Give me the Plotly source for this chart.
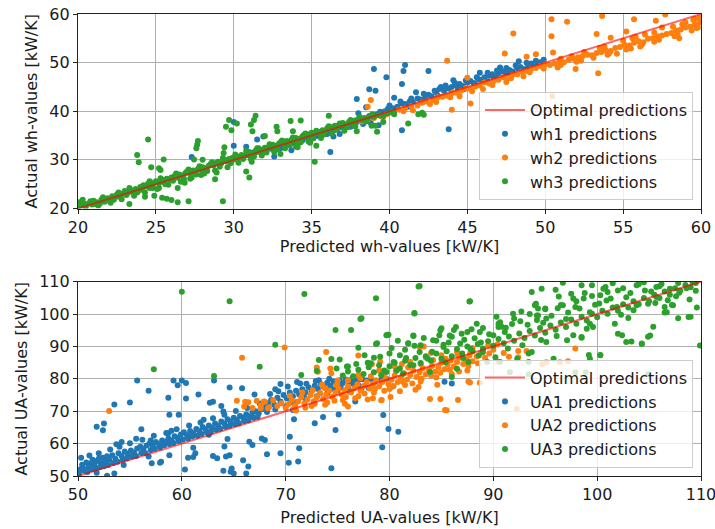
import plotly.graph_objects as go

FONT = "DejaVu Sans"

# ---- top panel: wh-values (predicted, actual) ----
wh1_points = [
    (30.2, 30.6), (30.5, 30.7), (30.8, 31.0), (31.0, 30.9), (31.3, 31.5), (31.6, 31.8), (31.9, 31.6),
    (32.1, 32.4), (32.4, 32.3), (32.7, 32.5), (32.9, 32.6), (33.2, 33.4), (33.4, 33.0), (33.8, 33.5),
    (34.1, 34.3), (34.4, 34.0), (34.7, 34.5), (35.0, 35.2), (35.3, 34.9), (35.6, 35.5), (35.9, 35.4),
    (36.1, 36.3), (36.4, 36.0), (36.7, 36.5), (37.0, 36.7), (37.3, 37.1), (37.6, 37.3), (37.9, 37.8),
    (38.1, 38.3), (38.4, 38.2), (38.7, 39.0), (38.9, 39.3), (39.2, 39.4), (39.4, 39.9), (39.7, 40.0),
    (39.9, 40.5), (40.2, 40.6), (40.5, 40.9), (40.8, 41.6), (41.0, 41.5), (41.3, 42.0), (41.5, 41.9),
    (41.8, 42.6), (42.0, 42.4), (42.3, 42.9), (42.5, 43.4), (42.7, 43.1), (43.0, 43.9), (43.2, 44.6),
    (43.3, 45.0), (43.5, 44.2), (43.8, 44.7), (44.0, 45.0), (44.3, 45.3), (44.5, 45.6), (44.7, 45.2),
    (45.0, 45.9), (45.2, 46.2), (45.4, 45.8), (45.7, 46.6), (45.9, 46.5), (46.1, 47.0), (46.4, 47.3),
    (46.6, 47.6), (46.8, 47.2), (47.0, 47.8), (47.2, 48.3), (47.4, 48.0), (47.7, 48.5), (47.9, 48.2),
    (48.2, 48.9), (48.4, 49.1), (48.6, 48.7), (48.9, 49.4), (49.1, 49.8), (49.3, 49.2), (49.5, 49.9),
    (49.7, 50.1), (33.0, 32.4), (34.9, 34.2), (36.0, 35.3), (36.8, 35.3), (37.5, 36.8), (38.3, 37.4),
    (38.8, 37.6), (39.5, 38.9), (40.3, 40.0), (41.2, 40.9), (44.8, 44.6), (46.3, 46.1), (47.6, 47.3),
    (48.9, 48.7), (42.1, 41.8), (27.3, 30.6), (30.0, 32.9), (30.0, 37.8), (30.8, 32.7), (31.5, 34.2),
    (31.9, 34.8), (32.6, 30.7), (33.7, 32.0), (36.2, 31.6), (36.4, 34.8), (37.9, 42.5), (38.0, 39.6),
    (38.7, 44.5), (39.0, 48.7), (39.1, 44.2), (39.3, 37.1), (39.8, 47.0), (40.8, 45.6), (40.8, 36.1),
    (40.9, 48.3), (41.0, 49.5), (42.5, 48.3), (43.8, 36.3), (38.5, 40.8), (40.3, 42.8), (41.7, 43.9),
    (44.1, 46.4), (45.8, 47.9), (47.1, 49.0), (48.3, 50.3), (40.0, 41.2), (40.7, 42.0), (41.4, 42.6),
    (42.2, 43.6), (42.9, 44.2), (43.6, 45.3), (44.2, 45.8), (44.9, 46.3), (45.6, 47.0), (46.3, 47.9),
    (46.9, 48.4), (47.5, 48.9), (48.1, 49.4), (48.8, 50.0), (49.4, 50.4), (49.9, 50.6), (43.1, 43.2),
    (44.4, 44.6), (45.5, 45.5), (46.7, 46.8), (47.8, 48.0), (49.0, 49.1),
]

wh2_points = [
    (38.2, 37.9), (38.6, 38.3), (39.0, 38.6), (39.4, 39.1), (39.8, 39.4), (40.2, 39.8), (40.6, 40.3),
    (41.0, 40.6), (41.4, 41.1), (41.8, 41.2), (42.1, 41.8), (42.4, 42.0), (42.8, 42.3), (43.1, 42.9),
    (43.4, 43.0), (43.7, 43.2), (44.0, 43.7), (44.3, 43.8), (44.6, 44.2), (44.9, 44.7), (45.2, 44.6),
    (45.5, 45.1), (45.8, 45.3), (46.1, 45.9), (46.4, 45.7), (46.7, 46.2), (47.0, 46.5), (47.3, 47.0),
    (47.6, 46.9), (47.9, 47.5), (48.2, 47.6), (48.5, 48.1), (48.8, 48.3), (49.1, 48.7), (49.4, 48.9),
    (49.7, 49.3), (50.0, 49.6), (50.3, 49.5), (50.6, 49.8), (50.9, 50.2), (51.2, 50.1), (51.5, 50.6),
    (51.8, 50.8), (52.1, 51.1), (52.4, 51.3), (52.7, 51.6), (53.0, 51.5), (53.3, 52.0), (53.6, 52.2),
    (53.9, 52.5), (54.2, 52.4), (54.5, 53.0), (54.8, 53.2), (55.1, 53.6), (55.4, 53.5), (55.7, 54.1),
    (56.0, 54.4), (56.3, 54.2), (56.6, 54.9), (56.9, 55.0), (57.2, 55.4), (57.5, 55.6), (57.8, 55.9),
    (58.1, 56.1), (58.4, 56.6), (58.7, 56.8), (59.0, 57.2), (59.3, 57.4), (59.6, 57.9), (59.9, 58.3),
    (41.5, 40.2), (43.0, 41.9), (44.5, 43.1), (46.0, 44.6), (47.5, 46.0), (48.6, 47.2), (50.8, 49.0),
    (52.3, 50.4), (54.0, 51.6), (55.5, 52.9), (57.0, 54.3), (58.5, 55.8), (59.8, 57.2), (52.5, 52.2),
    (55.0, 54.5), (57.5, 57.2), (59.0, 58.3), (59.9, 59.2), (55.8, 55.3), (51.0, 50.8), (53.8, 53.3),
    (56.4, 55.8), (58.8, 57.9), (38.6, 40.9), (38.8, 42.3), (43.7, 50.4), (44.0, 40.3), (45.2, 41.6),
    (45.0, 46.9), (47.4, 51.9), (47.95, 56.0), (48.8, 51.2), (49.4, 51.7), (49.4, 40.9), (50.4, 58.9),
    (51.4, 58.4), (50.4, 55.4), (50.5, 52.1), (50.45, 43.1), (51.95, 48.7), (53.4, 47.8), (53.3, 55.9),
    (53.65, 59.6), (54.2, 55.1), (55.2, 56.4), (55.7, 58.9), (57.1, 58.6), (57.7, 59.9), (58.6, 55.0),
    (59.6, 59.0), (59.7, 57.1), (39.6, 38.8), (40.9, 40.0), (42.6, 41.5), (43.9, 42.9), (45.3, 44.1),
    (46.6, 45.4), (47.8, 46.8), (49.0, 48.0), (49.9, 48.8), (51.0, 49.5), (52.0, 50.2), (53.1, 51.0),
    (54.1, 51.9), (55.2, 52.7), (56.2, 53.7), (57.3, 54.7), (58.3, 55.4), (59.4, 56.6), (51.7, 51.3),
    (53.5, 53.0), (55.6, 55.0), (57.0, 56.2), (58.2, 57.4), (59.5, 58.8), (56.1, 53.3), (54.6, 51.8),
]

wh3_points = [
    (20.0, 20.4), (20.1, 21.3), (20.2, 20.6), (20.4, 21.0), (20.5, 20.3), (20.7, 21.1), (20.9, 20.8),
    (21.0, 21.6), (21.2, 21.3), (21.4, 21.0), (21.5, 21.8), (21.7, 21.4), (21.9, 22.1), (22.0, 21.6),
    (22.2, 22.5), (22.4, 22.3), (22.5, 22.9), (22.7, 22.4), (22.9, 23.1), (23.0, 23.6), (23.2, 23.2),
    (23.4, 23.8), (23.5, 23.4), (23.7, 24.0), (23.9, 23.7), (24.0, 24.4), (24.2, 24.8), (24.4, 24.5),
    (24.5, 25.1), (24.7, 24.8), (24.9, 25.3), (25.0, 25.6), (25.2, 25.2), (25.4, 25.9), (25.5, 25.5),
    (25.7, 26.1), (25.9, 26.0), (26.0, 26.4), (26.2, 26.7), (26.4, 26.3), (26.5, 27.0), (26.7, 26.8),
    (26.9, 27.3), (27.0, 27.6), (27.2, 27.2), (27.4, 27.8), (27.5, 27.5), (27.7, 28.1), (27.9, 28.0),
    (28.0, 28.5), (28.2, 28.3), (28.4, 28.8), (28.5, 29.1), (28.7, 28.9), (28.9, 29.4), (29.0, 29.6),
    (29.2, 29.3), (29.4, 30.0), (29.5, 29.7), (29.7, 30.2), (29.9, 30.4), (30.0, 30.1), (30.2, 30.7),
    (30.4, 30.5), (30.5, 31.0), (30.7, 30.8), (30.9, 31.3), (31.0, 31.6), (31.2, 31.2), (31.4, 31.9),
    (31.5, 31.6), (31.7, 32.1), (31.9, 32.0), (32.0, 32.5), (32.2, 32.3), (32.4, 32.8), (32.5, 33.1),
    (32.7, 32.9), (32.9, 33.3), (33.0, 33.6), (33.2, 33.4), (33.4, 33.9), (33.5, 33.6), (33.7, 34.1),
    (33.9, 34.0), (34.0, 34.5), (34.2, 34.3), (34.4, 34.8), (34.5, 35.1), (34.7, 34.9), (34.9, 35.3),
    (35.0, 35.6), (35.2, 35.4), (35.4, 35.8), (35.5, 35.5), (35.7, 36.1), (35.9, 36.0), (36.0, 36.5),
    (36.2, 36.4), (36.4, 36.8), (36.5, 37.0), (36.7, 36.9), (36.9, 37.3), (37.0, 37.6), (37.2, 37.3),
    (37.4, 37.8), (37.6, 37.7), (37.8, 38.1), (38.0, 38.4), (38.2, 38.2), (38.4, 38.6), (38.6, 38.5),
    (38.8, 38.9), (39.0, 38.8), (39.3, 39.2), (39.6, 39.0), (39.9, 39.6), (40.2, 39.7), (40.3, 39.4),
    (41.85, 39.4), (42.1, 39.7), (42.2, 39.3), (21.3, 20.6), (22.1, 21.2), (22.8, 21.9), (23.6, 22.6),
    (24.3, 23.3), (25.1, 24.0), (25.8, 24.9), (26.6, 25.5), (27.3, 26.4), (28.1, 27.2), (28.8, 27.8),
    (29.6, 28.5), (30.3, 29.4), (31.1, 30.2), (31.8, 30.9), (32.6, 31.6), (33.3, 32.4), (34.1, 33.1),
    (34.8, 33.8), (35.6, 34.5), (36.3, 35.4), (37.1, 36.0), (37.8, 36.9), (24.5, 34.2), (23.8, 31.0),
    (23.9, 29.5), (24.7, 28.5), (25.5, 30.1), (25.2, 28.3), (25.3, 27.9), (24.3, 22.4), (23.3, 20.9),
    (24.9, 22.6), (25.4, 22.2), (25.7, 22.0), (26.0, 21.75), (26.4, 21.3), (27.1, 21.5), (29.3, 21.5),
    (27.7, 33.9), (27.65, 33.1), (27.6, 32.4), (27.45, 30.1), (28.0, 30.0), (29.4, 32.6), (29.35, 31.4),
    (29.5, 36.8), (29.7, 38.2), (29.85, 36.1), (30.2, 37.5), (28.9, 27.4), (28.8, 26.0), (27.9, 26.9),
    (27.2, 26.1), (26.85, 25.3), (26.4, 24.2), (25.2, 24.2), (24.6, 24.2), (30.8, 27.6), (31.0, 26.4),
    (31.15, 29.6), (31.1, 37.3), (31.4, 39.1), (31.3, 38.2), (31.2, 35.9), (32.0, 34.9), (32.75, 36.8),
    (32.8, 35.9), (33.65, 38.0), (34.3, 38.1), (33.8, 35.9), (33.0, 31.2), (34.0, 32.7), (34.1, 32.6),
    (34.6, 34.8), (34.9, 33.5), (35.2, 29.6), (35.3, 32.9), (36.1, 39.1), (31.5, 32.4), (38.85, 37.0),
    (39.2, 35.8), (37.9, 35.9), (41.2, 37.5), (39.1, 37.0), (39.6, 37.8), (20.3, 21.8), (20.8, 21.5),
    (21.1, 20.9), (21.6, 22.3), (22.3, 21.8), (22.6, 23.3), (23.1, 22.8), (23.3, 24.2), (23.8, 23.3),
    (24.1, 23.9), (24.6, 25.6), (24.8, 24.2), (25.3, 26.2), (25.6, 25.0), (26.1, 25.7), (26.3, 27.2),
    (26.8, 26.1), (27.1, 28.0), (27.6, 27.0), (27.8, 28.7), (28.3, 27.7), (28.6, 29.5), (29.1, 28.6),
    (29.3, 30.4), (29.8, 29.3), (30.1, 31.1), (30.6, 30.2), (30.8, 31.8), (31.3, 30.7), (31.6, 32.4),
    (32.1, 31.5), (32.3, 33.2), (32.8, 32.2), (33.1, 34.0), (33.6, 33.0), (33.8, 34.6), (34.3, 33.6),
    (34.6, 35.4), (35.1, 34.4), (35.3, 36.0), (35.8, 35.2), (36.1, 36.9), (36.6, 36.2), (36.8, 37.5),
    (37.3, 36.7), (37.5, 38.2), (37.7, 37.2), (38.1, 38.8), (38.5, 37.9), (38.9, 39.4),
]

# ---- bottom panel: UA-values (predicted, actual) ----
ua1_points = [
    (50.2, 52.0), (50.4, 53.5), (50.6, 51.6), (50.8, 54.2), (51.0, 52.8), (51.2, 53.8), (51.4, 55.0),
    (51.6, 53.2), (51.8, 54.6), (52.0, 55.3), (52.2, 53.9), (52.4, 55.6), (52.6, 54.5), (52.8, 56.1),
    (53.0, 55.0), (53.3, 56.4), (53.6, 55.3), (53.9, 57.0), (54.2, 56.2), (54.5, 57.6), (54.8, 56.8),
    (55.1, 57.9), (55.4, 57.2), (55.7, 58.5), (56.0, 59.0), (56.3, 58.3), (56.6, 59.4), (56.9, 60.0),
    (57.2, 59.3), (57.5, 60.5), (57.8, 59.8), (58.1, 61.0), (58.4, 60.5), (58.7, 61.6), (59.0, 61.0),
    (59.3, 62.3), (59.6, 61.7), (59.9, 62.8), (60.2, 63.5), (60.5, 62.6), (60.8, 63.9), (61.1, 63.2),
    (61.4, 64.5), (61.7, 63.8), (62.0, 65.1), (62.3, 64.4), (62.6, 65.6), (62.9, 65.0), (63.2, 66.2),
    (63.5, 65.5), (63.8, 66.8), (64.1, 66.2), (64.4, 67.5), (64.7, 66.8), (65.0, 68.0), (65.3, 67.3),
    (65.6, 68.5), (65.9, 68.0), (66.2, 69.0), (66.5, 68.4), (66.8, 69.6), (67.1, 70.0), (67.4, 69.3),
    (67.7, 70.6), (68.0, 71.2), (68.3, 72.5), (68.6, 73.5), (68.9, 72.0), (69.2, 74.2), (69.5, 73.0),
    (69.8, 75.0), (70.1, 74.0), (70.4, 75.8), (70.7, 74.6), (71.0, 76.3), (71.3, 75.2), (71.6, 76.8),
    (71.9, 75.8), (72.2, 77.4), (72.5, 76.3), (72.8, 77.9), (73.1, 76.9), (73.4, 78.3), (73.7, 77.4),
    (74.0, 78.8), (74.3, 77.8), (74.6, 79.2), (74.9, 78.3), (75.2, 79.6), (75.5, 78.7), (75.8, 79.8),
    (76.1, 79.1), (76.4, 80.0), (76.7, 79.4), (77.0, 79.7), (77.4, 79.9), (77.8, 79.5), (78.2, 80.0),
    (68.2, 69.8), (69.0, 70.5), (70.0, 71.5), (71.0, 72.8), (72.0, 73.6), (73.0, 74.6), (74.0, 75.5),
    (75.0, 76.4), (76.0, 77.2), (77.0, 78.0), (76.7, 73.0), (69.5, 78.4), (71.4, 78.6), (73.2, 79.6),
    (67.0, 75.2), (65.8, 77.1), (69.3, 76.2), (51.8, 65.2), (52.5, 66.2), (52.4, 64.1), (53.5, 72.1),
    (55.0, 72.7), (54.2, 60.5), (56.1, 64.4), (55.6, 61.5), (56.8, 76.3), (55.7, 79.5), (58.7, 74.2),
    (58.8, 68.9), (59.2, 79.5), (59.6, 78.0), (59.7, 68.9), (60.0, 79.5), (60.4, 78.7), (60.4, 73.9),
    (61.6, 75.2), (62.7, 72.6), (63.0, 72.9), (63.8, 71.6), (63.1, 79.5), (64.6, 77.3), (62.1, 67.4),
    (64.0, 69.9), (58.7, 63.2), (51.4, 54.4), (60.3, 52.0), (58.0, 54.4), (58.8, 56.4), (61.1, 55.9),
    (63.0, 56.2), (64.6, 56.4), (64.8, 52.3), (64.0, 51.6), (64.1, 59.1), (64.4, 61.4), (60.6, 55.6),
    (57.1, 53.9), (53.5, 50.8), (52.8, 50.1), (51.8, 51.0), (54.4, 53.4), (56.8, 56.0), (57.9, 54.1),
    (61.1, 58.7), (61.3, 57.0), (62.6, 62.7), (63.4, 55.5), (64.25, 56.0), (64.7, 51.3), (65.0, 50.8),
    (66.2, 50.8), (65.9, 54.9), (66.4, 52.9), (66.5, 60.6), (66.8, 59.6), (67.7, 61.6), (68.0, 61.1),
    (68.2, 56.7), (69.5, 57.0), (70.3, 54.1), (71.2, 54.5), (71.3, 58.6), (70.4, 62.1), (70.7, 70.4),
    (70.8, 67.5), (72.8, 66.3), (73.6, 68.2), (74.4, 52.4), (74.8, 64.2), (75.1, 69.0), (79.3, 58.9),
    (79.9, 64.5), (80.85, 63.7), (79.4, 68.8), (80.3, 77.6), (85.3, 79.1), (86.0, 78.6),
    (50.1, 50.8), (50.5, 52.4), (50.9, 51.2), (51.3, 52.1), (51.7, 51.9), (52.1, 52.7), (52.5, 53.0),
    (52.9, 53.4), (53.4, 54.0), (53.8, 54.4), (54.3, 55.0), (54.7, 55.5), (55.2, 56.0), (55.6, 56.2),
    (56.1, 57.1), (56.5, 57.0), (57.0, 58.0), (57.4, 58.4), (57.9, 58.8), (58.3, 59.5), (58.8, 59.9),
    (59.2, 60.2), (59.7, 60.8), (60.1, 61.3), (60.6, 61.6), (61.0, 62.2), (61.5, 62.4), (61.9, 63.0),
    (62.4, 63.5), (62.8, 63.7), (63.3, 64.3), (63.7, 64.6), (64.2, 65.2), (64.6, 65.5), (65.1, 66.0),
    (65.5, 66.3), (66.0, 67.0), (66.4, 67.2), (66.9, 68.0), (67.3, 68.3), (50.3, 55.6), (51.1, 56.3),
    (52.0, 57.0), (53.1, 58.2), (54.0, 59.0), (55.0, 60.1), (56.2, 61.2), (57.3, 62.4), (58.5, 63.3),
    (59.5, 64.4), (60.7, 65.6), (61.8, 66.5), (63.0, 67.8), (64.1, 68.9), (65.2, 70.1), (66.3, 71.0),
    (67.5, 72.4), (53.7, 59.8), (57.0, 61.0), (59.0, 64.0), (68.5, 75.3), (69.0, 76.8), (70.2, 77.6),
    (71.1, 79.0), (72.0, 78.5), (72.9, 79.3), (74.2, 80.0), (75.3, 77.3), (76.2, 76.0), (77.3, 77.0),
    (78.5, 78.8), (79.2, 79.7), (79.7, 80.0), (70.5, 72.8), (71.8, 74.2), (73.3, 75.5), (74.7, 76.8),
    (76.5, 78.5), (78.0, 77.2),
]

ua2_points = [
    (66.0, 71.5), (66.4, 72.8), (66.8, 71.0), (67.2, 73.2), (67.6, 71.8), (68.0, 72.9), (68.4, 71.2),
    (68.8, 73.4), (69.2, 71.6), (69.6, 72.5), (70.0, 71.0), (70.3, 72.2), (70.6, 73.5), (70.9, 71.8),
    (71.2, 73.0), (71.5, 74.3), (71.8, 72.4), (72.1, 73.6), (72.4, 75.0), (72.7, 73.1), (73.0, 74.4),
    (73.3, 75.6), (73.6, 73.8), (73.9, 75.2), (74.2, 76.4), (74.5, 74.5), (74.8, 75.8), (75.1, 77.0),
    (75.4, 75.1), (75.7, 76.5), (76.0, 77.6), (76.3, 75.8), (76.6, 77.1), (76.9, 78.3), (77.2, 76.4),
    (77.5, 77.8), (77.8, 79.0), (78.1, 77.0), (78.4, 78.4), (78.7, 79.6), (79.0, 77.7), (79.3, 79.0),
    (79.6, 80.3), (79.9, 78.3), (80.2, 79.7), (80.5, 81.0), (80.8, 79.0), (81.1, 80.4), (81.4, 81.7),
    (81.7, 79.8), (82.0, 81.2), (82.3, 82.5), (82.6, 80.6), (82.9, 82.0), (83.2, 83.3), (83.5, 81.4),
    (83.8, 82.8), (84.1, 84.0), (84.4, 82.2), (84.7, 83.6), (85.0, 85.0), (85.3, 83.0), (85.6, 84.4),
    (85.9, 85.7), (86.2, 83.8), (86.5, 85.2), (86.8, 86.5), (87.1, 84.6), (87.4, 86.0), (87.7, 87.2),
    (88.0, 85.4), (88.4, 86.9), (88.8, 88.0), (89.2, 86.5), (89.6, 87.8), (90.0, 89.0), (71.0, 70.2),
    (72.5, 71.6), (74.0, 72.7), (75.5, 73.5), (77.0, 74.6), (78.5, 75.8), (80.0, 76.9), (81.5, 78.1),
    (83.0, 79.2), (84.5, 80.4), (86.0, 81.5), (87.5, 82.6), (76.0, 71.5), (79.2, 73.4), (73.5, 78.2),
    (75.0, 79.5), (77.0, 81.3), (79.0, 82.6), (80.5, 83.8), (82.0, 85.2), (83.5, 86.6), (85.0, 87.3),
    (86.5, 88.3), (88.0, 89.5), (89.5, 90.3), (84.0, 88.0), (81.2, 84.6), (53.0, 70.1), (65.8, 86.5),
    (69.9, 89.7), (73.9, 88.3), (77.0, 87.2), (73.0, 83.5), (73.1, 82.2), (74.3, 83.2), (74.4, 81.7),
    (65.3, 73.2), (78.3, 84.5), (79.1, 85.3), (83.3, 90.0), (82.9, 89.8), (85.35, 70.4), (83.9, 73.8),
    (84.9, 73.8), (86.6, 73.5), (85.5, 70.3), (82.5, 76.6), (87.75, 78.9), (90.5, 85.3), (92.4, 88.6),
    (93.2, 88.6), (92.4, 86.7), (94.7, 84.5), (95.1, 85.1), (96.4, 85.1), (97.9, 89.4), (97.2, 85.4),
    (91.1, 73.5), (92.25, 70.7), (88.7, 78.8), (80.1, 74.4), (87.6, 79.2), (78.4, 74.0), (79.25, 73.5),
    (67.9, 73.0), (68.3, 70.9), (67.6, 70.9), (66.1, 72.9), (70.8, 70.6), (71.9, 71.1), (72.8, 72.3),
    (73.8, 72.0), (74.7, 73.2), (75.8, 74.4), (76.7, 74.0), (77.6, 75.5), (78.6, 76.9), (79.5, 76.3),
    (80.4, 77.8), (81.3, 79.0), (82.2, 78.6), (83.1, 80.1), (84.0, 81.0), (84.9, 81.9), (85.8, 82.8),
    (86.7, 82.3), (87.6, 84.0), (88.5, 84.8), (70.4, 74.8), (71.6, 75.8), (72.6, 76.5), (73.8, 77.1),
    (74.9, 78.1), (76.0, 79.6), (77.2, 80.2), (78.2, 80.8), (79.4, 81.5), (80.6, 82.4), (81.8, 83.5),
    (83.0, 84.6), (84.2, 85.8), (85.4, 86.2), (86.6, 87.3), (87.8, 88.2), (89.0, 89.2), (90.4, 90.6),
    (91.0, 88.0), (91.5, 86.8), (84.6, 78.2), (82.8, 77.5), (81.0, 76.2), (75.7, 72.3), (77.9, 73.6),
]

ua3_points = [
    (75.5, 81.0), (76.0, 82.3), (76.5, 80.8), (77.0, 82.8), (77.5, 81.5), (78.0, 83.6), (78.5, 82.0),
    (79.0, 84.2), (79.5, 82.6), (80.0, 83.9), (80.5, 85.0), (81.0, 83.2), (81.5, 85.6), (82.0, 84.3),
    (82.5, 86.4), (83.0, 84.9), (83.5, 87.0), (84.0, 85.6), (84.5, 87.8), (85.0, 86.2), (85.5, 88.5),
    (86.0, 87.0), (86.5, 89.2), (87.0, 87.8), (87.5, 90.0), (88.0, 88.5), (88.5, 90.8), (89.0, 89.4),
    (89.5, 91.6), (90.0, 90.2), (90.5, 92.3), (91.0, 91.0), (91.5, 93.1), (92.0, 91.8), (92.5, 94.0),
    (93.0, 92.6), (93.5, 94.8), (94.0, 93.4), (94.5, 95.7), (95.0, 94.2), (95.5, 96.5), (96.0, 95.2),
    (96.5, 97.4), (97.0, 96.0), (97.5, 98.3), (98.0, 97.0), (98.5, 99.2), (99.0, 98.0), (99.5, 100.1),
    (100.0, 99.0), (100.5, 101.0), (101.0, 100.1), (101.5, 102.0), (102.0, 101.0), (102.5, 103.0),
    (103.0, 102.0), (103.5, 104.0), (104.0, 103.0), (104.5, 105.0), (105.0, 104.0), (105.5, 106.0),
    (106.0, 105.0), (106.5, 107.0), (107.0, 106.0), (107.5, 108.0), (108.0, 107.2), (108.5, 109.0),
    (109.0, 108.3), (109.5, 109.6), (78.5, 86.5), (80.0, 87.8), (81.5, 89.0), (83.0, 90.4), (84.5, 91.8),
    (86.0, 93.0), (87.5, 94.5), (89.0, 95.7), (90.5, 97.0), (92.0, 98.6), (93.5, 100.0), (95.0, 101.5),
    (96.5, 102.8), (98.0, 104.0), (99.5, 105.6), (101.0, 106.8), (102.5, 108.0), (104.0, 109.2),
    (85.2, 90.5), (88.2, 92.5), (91.2, 95.8), (94.2, 98.2), (97.2, 100.5), (100.2, 103.3), (103.2, 106.5),
    (106.0, 108.6), (60.0, 106.9), (64.6, 104.0), (71.8, 106.2), (57.3, 83.0), (63.1, 80.9), (67.5, 83.7),
    (69.0, 90.5), (71.5, 81.2), (73.0, 82.4), (73.2, 85.8), (74.8, 95.1), (76.3, 95.1), (74.4, 86.1),
    (75.2, 86.0), (76.0, 83.8), (77.0, 89.6), (77.2, 98.5), (78.7, 104.9), (82.8, 108.5), (77.3, 98.7),
    (82.4, 100.2), (87.75, 104.0), (78.8, 91.0), (79.7, 93.5), (77.9, 85.0), (75.9, 83.8), (74.9, 83.2),
    (79.8, 93.6), (82.3, 93.4), (84.2, 91.9), (84.9, 95.0), (85.8, 93.4), (86.95, 93.9), (88.4, 97.0),
    (88.7, 94.5), (90.5, 96.0), (90.65, 97.5), (91.9, 100.1), (92.6, 97.8), (93.7, 106.8), (94.3, 101.7),
    (94.2, 99.6), (81.8, 90.9), (81.0, 87.3), (80.4, 85.2), (82.9, 88.3), (85.2, 89.8), (86.8, 90.9),
    (87.8, 89.3), (89.0, 88.3), (89.4, 85.2), (87.6, 85.2), (86.5, 83.1), (86.0, 80.6), (83.9, 82.1),
    (82.3, 84.2), (81.3, 81.6), (79.7, 82.1), (79.2, 81.1), (90.2, 86.7), (90.65, 85.2), (92.3, 86.2),
    (93.4, 85.2), (93.4, 87.8), (79.9, 93.6), (78.7, 90.8), (82.3, 93.2), (81.8, 91.0), (85.0, 95.6),
    (86.2, 95.1), (90.0, 93.5), (90.8, 96.1), (96.3, 105.4), (97.7, 93.5), (98.5, 92.7), (99.2, 87.4),
    (100.3, 87.4), (102.4, 93.5), (103.3, 91.5), (104.3, 90.8), (105.4, 96.1), (104.9, 93.0),
    (107.8, 98.7), (109.0, 99.2), (109.9, 90.3), (107.2, 102.8), (106.5, 100.5), (94.65, 107.8),
    (96.7, 109.7), (98.5, 108.9), (99.5, 108.9), (100.8, 108.4), (102.0, 107.3), (103.8, 108.9),
    (105.7, 108.4), (107.0, 107.8), (108.6, 108.0), (94.0, 102.7), (95.0, 101.7), (94.3, 99.6),
    (95.1, 98.6), (96.7, 102.7), (97.7, 104.8), (98.7, 104.8), (98.3, 101.7), (99.3, 100.6), (99.6, 96.0),
    (99.0, 95.5), (98.5, 92.9), (99.3, 97.0), (100.3, 105.8), (100.9, 104.2), (101.9, 102.2),
    (101.7, 97.0), (102.0, 93.9), (102.8, 91.4), (103.0, 98.8), (103.8, 102.7), (104.9, 103.2),
    (105.7, 105.3), (106.5, 102.2), (107.3, 102.7), (106.7, 100.6), (105.1, 93.4), (104.3, 90.9),
    (108.8, 99.1), (100.3, 87.3), (99.3, 86.2), (97.1, 91.9), (95.8, 86.2), (95.1, 91.4), (93.7, 88.3),
    (101.5, 109.5), (104.5, 109.8), (106.2, 109.3), (107.8, 109.6), (109.2, 109.8), (102.8, 105.2),
    (105.2, 107.0), (107.6, 105.5), (109.5, 107.2), (96.0, 107.5), (97.5, 106.3), (91.6, 82.0),
    (93.4, 81.4), (97.9, 82.0), (98.9, 82.0), (104.9, 81.4), (82.9, 108.7), (87.7, 103.9), (82.4, 100.3),
    (80.2, 89.5), (80.8, 91.8), (81.6, 86.4), (82.4, 90.2), (83.3, 92.6), (84.1, 88.4), (84.8, 93.5),
    (85.7, 91.2), (86.4, 96.0), (87.2, 92.1), (87.9, 95.3), (88.8, 91.2), (89.6, 93.8), (90.3, 99.2),
    (91.1, 94.5), (91.8, 96.9), (92.7, 100.8), (93.3, 96.7), (94.1, 103.2), (94.8, 97.3), (95.6, 99.5),
    (96.2, 101.8), (97.0, 98.5), (97.9, 102.2), (98.8, 106.5), (99.8, 102.9), (100.6, 107.8),
    (101.3, 104.8), (102.3, 99.8), (103.5, 101.2), (104.6, 107.3), (105.6, 103.4), (106.8, 104.3),
    (107.9, 106.6), (108.9, 104.5), (109.6, 102.0), (83.7, 86.2), (85.4, 85.1), (87.1, 86.4),
    (88.6, 87.2), (91.4, 89.4), (92.8, 90.4), (94.6, 92.0), (96.1, 93.2), (78.2, 84.8), (79.1, 86.8),
    (80.7, 82.6), (76.8, 84.6), (77.6, 87.3),
]

wh_limits = [20, 60]
ua_limits = [50, 110]
wh_xticks = [20, 25, 30, 35, 40, 45, 50, 55, 60]
wh_yticks = [20, 30, 40, 50, 60]
ua_ticks = [50, 60, 70, 80, 90, 100, 110]

COLORS = ["#1f77b4", "#ff7f0e", "#2ca02c"]
LINE_COLOR = "rgba(255, 0, 0, 0.6)"
TEXT = "#1a1a1a"

fig = go.Figure()


def add_panel(series, names, limits, xa, ya, legend):
    for rank, (pts, name, color) in enumerate(zip(series, names, COLORS), start=2):
        fig.add_trace(go.Scatter(
            x=[p[0] for p in pts], y=[p[1] for p in pts], mode="markers", name=name,
            marker=dict(color=color, size=6, line=dict(width=0)),
            xaxis=xa, yaxis=ya, legend=legend, legendrank=rank,
        ))
    fig.add_trace(go.Scatter(
        x=limits, y=limits, mode="lines", name="Optimal predictions",
        line=dict(color=LINE_COLOR, width=2),
        xaxis=xa, yaxis=ya, legend=legend, legendrank=1,
    ))


add_panel([wh1_points, wh2_points, wh3_points],
          ["wh1 predictions", "wh2 predictions", "wh3 predictions"],
          wh_limits, "x", "y", "legend")
add_panel([ua1_points, ua2_points, ua3_points],
          ["UA1 predictions", "UA2 predictions", "UA3 predictions"],
          ua_limits, "x2", "y2", "legend2")

axis_style = dict(
    showgrid=True, gridcolor="#b0b0b0", gridwidth=0.8,
    showline=True, mirror=True, linecolor="#222222", linewidth=1.2,
    ticks="outside", ticklen=4, tickwidth=1, tickcolor="#222222",
    zeroline=False, automargin=False, ticklabeloverflow="allow",
    tickfont=dict(family=FONT, size=16, color=TEXT),
)
title_font = dict(family=FONT, size=16, color=TEXT)

legend_style = dict(
    xanchor="right", yanchor="bottom", x=693 / 715,
    bgcolor="rgba(255,255,255,0.8)", bordercolor="#cccccc", borderwidth=1,
    font=dict(family=FONT, size=16, color=TEXT),
    traceorder="normal", itemwidth=40,
)

fig.update_layout(
    width=715, height=529,
    margin=dict(l=0, r=0, t=0, b=0),
    paper_bgcolor="white", plot_bgcolor="white",
    xaxis=dict(domain=[78 / 715, 701 / 715], range=wh_limits, tickvals=wh_xticks, anchor="y",
               title=dict(text="Predicted wh-values [kW/K]", font=title_font, standoff=5), **axis_style),
    yaxis=dict(domain=[1 - 208.5 / 529, 1 - 14 / 529], range=wh_limits, tickvals=wh_yticks, anchor="x",
               title=dict(text="Actual wh-values [kW/K]", font=title_font, standoff=7), **axis_style),
    xaxis2=dict(domain=[78 / 715, 701 / 715], range=ua_limits, tickvals=ua_ticks, anchor="y2",
                title=dict(text="Predicted UA-values [kW/K]", font=title_font, standoff=8), **axis_style),
    yaxis2=dict(domain=[1 - 476 / 529, 1 - 281.7 / 529], range=ua_limits, tickvals=ua_ticks, anchor="x2",
                title=dict(text="Actual UA-values [kW/K]", font=title_font, standoff=7), **axis_style),
    legend=dict(y=1 - 200 / 529, **legend_style),
    legend2=dict(y=1 - 467.7 / 529, **legend_style),
    showlegend=True,
)

fig.write_html("out.html")
